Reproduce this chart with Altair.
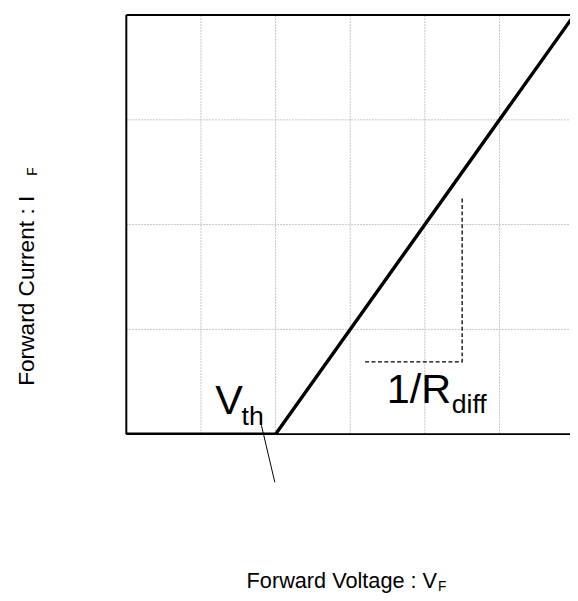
import altair as alt
import pandas as pd

# ---- data ----
curve_v = [0.0, 2.0, 6.0]
curve_i = [0.0, 0.0, 4.0]
grid_v = [1, 2, 3, 4, 5]
grid_i = [1, 2, 3]
x_max = 5.945
y_max = 4.0

dash_v = [3.2, 4.5, 4.5]
dash_i = [0.69, 0.69, 2.27]
leader_v = [1.81, 1.99]
leader_i = [0.085, -0.46]

big_text = ["V", "1/R"]
big_v = [1.19, 3.49]
big_i = [0.188, 0.30]
sub_text = ["th", "diff"]
sub_v = [1.545, 4.36]
sub_i = [0.085, 0.197]

x_title = "Forward Voltage : V"
y_title = "Forward Current : I"
sub_title = "F"

FONT = "Liberation Sans"

xs = alt.Scale(domain=[0, x_max], nice=False, zero=False)
ys = alt.Scale(domain=[0, y_max], nice=False, zero=False)

grid_x_df = pd.DataFrame({"v": grid_v})
grid_y_df = pd.DataFrame({"i": grid_i})
grid_x = alt.Chart(grid_x_df).mark_rule(color="#c4c4c4", strokeWidth=1, strokeDash=[2, 1]).encode(
    x=alt.X("v:Q", scale=xs, axis=None), y=alt.value(0), y2=alt.value(425))
grid_y = alt.Chart(grid_y_df).mark_rule(color="#c4c4c4", strokeWidth=1, strokeDash=[2, 1]).encode(
    y=alt.Y("i:Q", scale=ys, axis=None), x=alt.value(0), x2=alt.value(450))

border_df = pd.DataFrame({
    "v": [0, 0, 0], "v2": [x_max, 0, x_max],
    "i": [y_max, 0, 0], "i2": [y_max, y_max, 0]})
border = alt.Chart(border_df).mark_rule(color="black", strokeWidth=2).encode(
    x=alt.X("v:Q", scale=xs, axis=None), x2="v2:Q",
    y=alt.Y("i:Q", scale=ys, axis=None), y2="i2:Q")

curve_df = pd.DataFrame({"v": curve_v, "i": curve_i})
curve = alt.Chart(curve_df).mark_line(color="black", strokeWidth=3.5, clip=True).encode(
    x=alt.X("v:Q", scale=xs, axis=None), y=alt.Y("i:Q", scale=ys, axis=None))

dash_df = pd.DataFrame({"v": dash_v, "i": dash_i, "o": [0, 1, 2]})
dash = alt.Chart(dash_df).mark_line(color="black", strokeWidth=1.3, strokeDash=[4, 2.5]).encode(
    x=alt.X("v:Q", scale=xs, axis=None), y=alt.Y("i:Q", scale=ys, axis=None), order="o:Q")

leader_df = pd.DataFrame({"v": leader_v, "i": leader_i})
leader = alt.Chart(leader_df).mark_line(color="black", strokeWidth=1).encode(
    x=alt.X("v:Q", scale=xs, axis=None), y=alt.Y("i:Q", scale=ys, axis=None))

big_df = pd.DataFrame({"t": big_text, "v": big_v, "i": big_i})
big = alt.Chart(big_df).mark_text(font=FONT, fontSize=42, align="left", baseline="alphabetic", color="black").encode(
    x=alt.X("v:Q", scale=xs, axis=None), y=alt.Y("i:Q", scale=ys, axis=None), text="t:N")
sub_df = pd.DataFrame({"t": sub_text, "v": sub_v, "i": sub_i})
sub = alt.Chart(sub_df).mark_text(font=FONT, fontSize=27, align="left", baseline="alphabetic", color="black").encode(
    x=alt.X("v:Q", scale=xs, axis=None), y=alt.Y("i:Q", scale=ys, axis=None), text="t:N")

one = pd.DataFrame({"a": [0]})
xt = alt.Chart(one).mark_text(font=FONT, fontSize=22, align="left", baseline="alphabetic", text=x_title).encode(
    x=alt.value(122), y=alt.value(581))
xt_sub = alt.Chart(one).mark_text(font=FONT, fontSize=14, align="left", baseline="alphabetic", text=sub_title).encode(
    x=alt.value(316), y=alt.value(584))
yt = alt.Chart(one).mark_text(font=FONT, fontSize=23, align="left", baseline="alphabetic", angle=270, text=y_title).encode(
    x=alt.value(-94), y=alt.value(376))
yt_sub = alt.Chart(one).mark_text(font=FONT, fontSize=14, align="left", baseline="alphabetic", angle=270, text=sub_title).encode(
    x=alt.value(-91), y=alt.value(163))

chart = alt.layer(grid_x, grid_y, border, curve, dash, leader, big, sub, xt, xt_sub, yt, yt_sub).properties(
    width=450, height=425,
    autosize=alt.AutoSizeParams(type="none"),
    padding={"left": 120, "top": 3, "right": 0, "bottom": 162},
).configure_view(stroke=None)

chart.save("out.html", embed_options={"renderer": "svg", "actions": False})
